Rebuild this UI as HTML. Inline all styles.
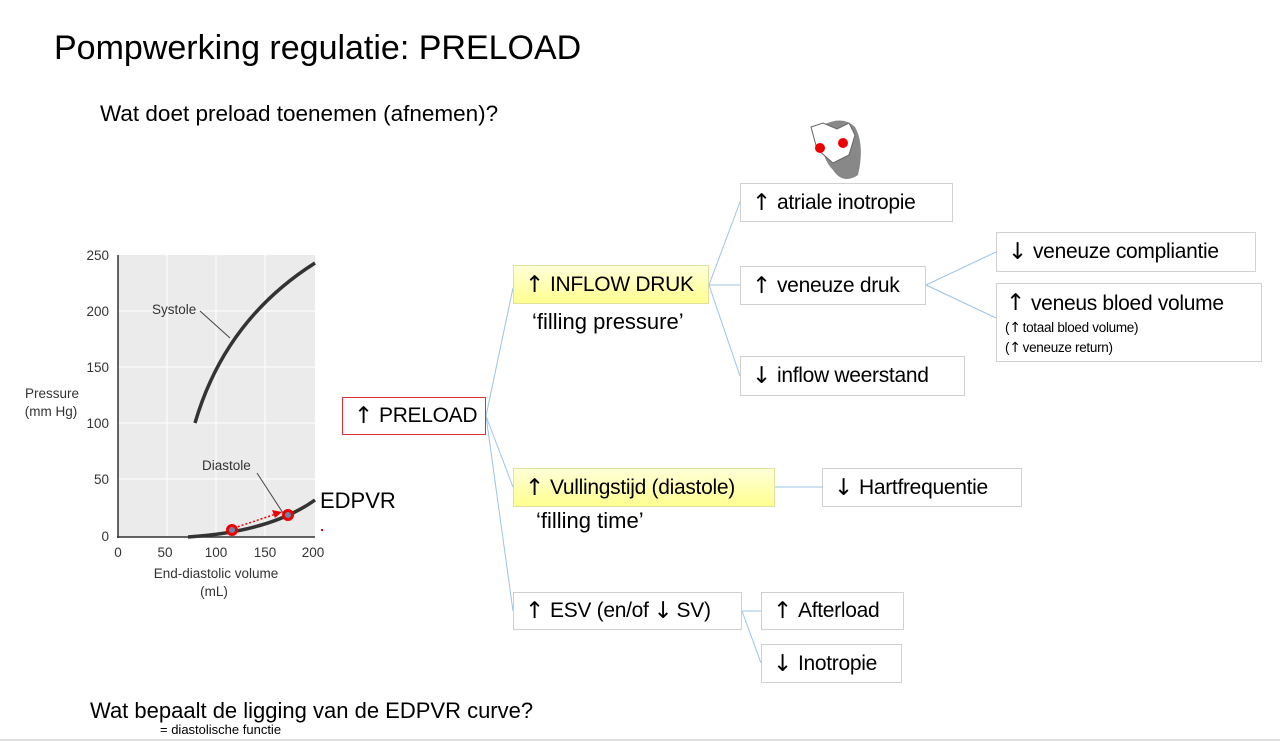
<!DOCTYPE html>
<html><head><meta charset="utf-8"><style>
body{margin:0;width:1280px;height:741px;background:#fff;position:relative;overflow:hidden;font-family:"Liberation Sans",sans-serif;color:#000}
.t{position:absolute;white-space:nowrap}
.b{position:absolute;box-sizing:border-box;border:1px solid #d0d0d0;background:#fff;font-size:21px;display:flex;align-items:center;padding-left:11px;white-space:nowrap;letter-spacing:-0.3px;overflow:hidden}
.y{background:linear-gradient(#ffffd8,#ffff90);border-color:#e0e0a0}
.a{font-family:"DejaVu Sans",sans-serif;font-size:23px;margin-right:6px}
</style></head><body>
<div class="t" style="left:54px;top:29px;font-size:34px">Pompwerking regulatie: PRELOAD</div>
<div class="t" style="left:100px;top:101px;font-size:22.5px">Wat doet preload toenemen (afnemen)?</div>
<div class="t" style="left:90px;top:698px;font-size:22px">Wat bepaalt de ligging van de EDPVR curve?</div>
<div class="t" style="left:160px;top:722px;font-size:13px">= diastolische functie</div>
<div style="position:absolute;left:0;top:739px;width:1280px;height:2px;background:#ddd"></div>

<svg style="position:absolute;left:0;top:0" width="1280" height="741">
<rect x="118" y="255" width="197" height="282" fill="#ebebeb"/>
<g stroke="#fff" stroke-width="1">
<line x1="167" y1="255" x2="167" y2="537"/><line x1="216" y1="255" x2="216" y2="537"/><line x1="265" y1="255" x2="265" y2="537"/>
<line x1="118" y1="311" x2="315" y2="311"/><line x1="118" y1="367" x2="315" y2="367"/><line x1="118" y1="423" x2="315" y2="423"/><line x1="118" y1="479" x2="315" y2="479"/>
</g>
<line x1="118" y1="255" x2="118" y2="538" stroke="#333" stroke-width="1.5"/>
<line x1="117" y1="537" x2="315" y2="537" stroke="#333" stroke-width="1.5"/>
<path d="M195,423 Q225,320 315,263" fill="none" stroke="#333" stroke-width="3.5"/>
<path d="M188,537 Q270,532 315,500" fill="none" stroke="#333" stroke-width="3.5"/>
<line x1="200" y1="311" x2="230" y2="338" stroke="#444" stroke-width="1"/>
<line x1="257" y1="473" x2="283" y2="513" stroke="#444" stroke-width="1"/>
<line x1="234" y1="528" x2="276" y2="514" stroke="#e00" stroke-width="1.5" stroke-dasharray="2,2"/>
<polygon points="282,512 272,510 275,518" fill="#e00"/>
<circle cx="232" cy="530" r="6" fill="#e00"/><circle cx="232" cy="530" r="3" fill="#68a"/>
<circle cx="288" cy="515" r="6" fill="#e00"/><circle cx="288" cy="515" r="3" fill="#68a"/>
<rect x="321" y="529" width="2" height="2" fill="#e00"/>
<g font-family="Liberation Sans" font-size="13.5" fill="#333">
<text x="109" y="260" text-anchor="end">250</text><text x="109" y="316" text-anchor="end">200</text>
<text x="109" y="372" text-anchor="end">150</text><text x="109" y="428" text-anchor="end">100</text>
<text x="109" y="484" text-anchor="end">50</text><text x="109" y="541" text-anchor="end">0</text>
<text x="118" y="557" text-anchor="middle">0</text><text x="165" y="557" text-anchor="middle">50</text>
<text x="216" y="557" text-anchor="middle">100</text><text x="265" y="557" text-anchor="middle">150</text><text x="313" y="557" text-anchor="middle">200</text>
<text x="216" y="578" text-anchor="middle">End-diastolic volume</text><text x="214" y="596" text-anchor="middle">(mL)</text>
<text x="52" y="398" text-anchor="middle">Pressure</text><text x="51" y="416" text-anchor="middle">(mm Hg)</text>
<text x="152" y="314">Systole</text><text x="202" y="470">Diastole</text>
</g>
<g stroke="#9cc3e6" stroke-width="1" fill="none">
<line x1="486" y1="416" x2="513" y2="288"/><line x1="486" y1="416" x2="513" y2="487"/><line x1="486" y1="416" x2="513" y2="611"/>
<line x1="709" y1="285" x2="740" y2="202"/><line x1="709" y1="285" x2="740" y2="285"/><line x1="709" y1="285" x2="740" y2="376"/>
<line x1="926" y1="285" x2="996" y2="252"/><line x1="926" y1="285" x2="996" y2="318"/>
<line x1="775" y1="487" x2="822" y2="487"/>
<line x1="742" y1="611" x2="761" y2="611"/><line x1="742" y1="611" x2="761" y2="663"/>
</g>
<g transform="translate(803,115)">
<path d="M20,10 Q40,0 52,12 Q62,30 55,60 Q40,70 30,55 Q15,40 20,10Z" fill="#888"/>
<path d="M8,12 L20,8 L34,14 L46,8 L52,20 L46,40 L30,48 L14,34Z" fill="#fff" stroke="#666"/>
<circle cx="17" cy="33" r="5" fill="#e00"/><circle cx="40" cy="28" r="5" fill="#e00"/>
</g>
</svg>
<div class="t" style="left:320px;top:488px;font-size:22px">EDPVR</div>

<div class="b" style="left:342px;top:397px;width:144px;height:38px;border:1.5px solid #e03030"><span class="a">↑</span>PRELOAD</div>
<div class="b y" style="left:513px;top:265px;width:196px;height:39px"><span class="a">↑</span>INFLOW DRUK</div>
<div class="t" style="left:532px;top:309px;font-size:22px">‘filling pressure’</div>
<div class="b y" style="left:513px;top:468px;width:262px;height:39px"><span class="a">↑</span>Vullingstijd (diastole)</div>
<div class="t" style="left:536px;top:508px;font-size:22px">‘filling time’</div>
<div class="b" style="left:513px;top:592px;width:229px;height:38px"><span class="a">↑</span>ESV (en/of <span class="a" style="margin:0 4px 0 5px">↓</span>SV)</div>
<div class="b" style="left:740px;top:183px;width:213px;height:39px"><span class="a">↑</span>atriale inotropie</div>
<div class="b" style="left:740px;top:266px;width:186px;height:39px"><span class="a">↑</span>veneuze druk</div>
<div class="b" style="left:740px;top:356px;width:225px;height:40px"><span class="a">↓</span>inflow weerstand</div>
<div class="b" style="left:996px;top:232px;width:260px;height:40px"><span class="a">↓</span>veneuze compliantie</div>
<div class="b" style="left:996px;top:283px;width:266px;height:79px;display:block;padding:0">
<div style="position:absolute;left:9px;top:6px;font-size:21px"><span class="a">↑</span>veneus bloed volume</div>
<div style="position:absolute;left:8px;top:36px;font-size:13.5px">(<span class="a" style="font-size:14px;margin:0 2px 0 0">↑</span>totaal bloed volume)</div>
<div style="position:absolute;left:8px;top:56px;font-size:13.5px">(<span class="a" style="font-size:14px;margin:0 2px 0 0">↑</span>veneuze return)</div>
</div>
<div class="b" style="left:822px;top:468px;width:200px;height:39px"><span class="a">↓</span>Hartfrequentie</div>
<div class="b" style="left:761px;top:592px;width:143px;height:38px"><span class="a">↑</span>Afterload</div>
<div class="b" style="left:761px;top:644px;width:141px;height:39px"><span class="a">↓</span>Inotropie</div>
</body></html>
